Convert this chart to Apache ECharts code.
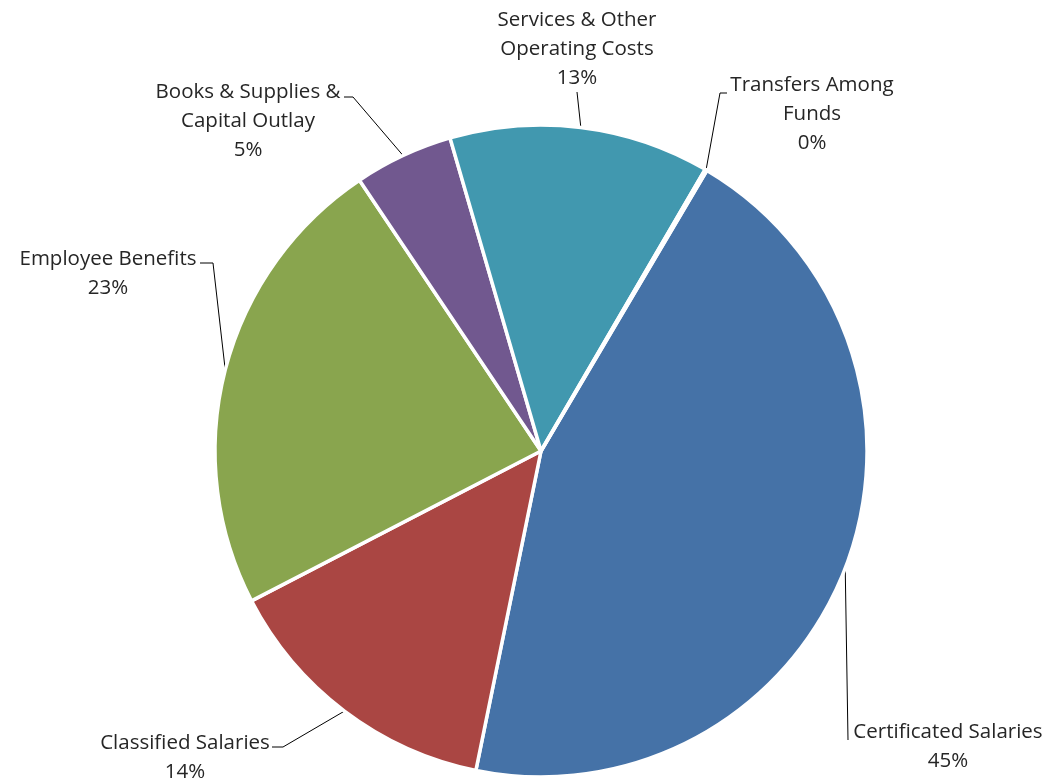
<!DOCTYPE html>
<html>
<head>
<meta charset="utf-8">
<script src="https://cdn.jsdelivr.net/npm/echarts@6/dist/echarts.min.js"></script>
<style>
html,body{margin:0;padding:0;background:#fff;}
#chart{width:1052px;height:782px;}
</style>
</head>
<body>
<div id="chart"></div>
<script>
// Data (clockwise order)
const categories = ['Certificated Salaries', 'Classified Salaries', 'Employee Benefits', 'Books & Supplies & Capital Outlay', 'Services & Other Operating Costs', 'Transfers Among Funds'];
const labelText = ['Certificated Salaries', 'Classified Salaries', 'Employee Benefits', 'Books & Supplies &\nCapital Outlay', 'Services & Other\nOperating Costs', 'Transfers Among\nFunds'];
const values = [44.7, 14.2, 23.2, 4.9, 12.9, 0.1];
const colors = ['#4572A7', '#AA4643', '#89A54E', '#71588F', '#4198AF', '#DB843D'];

// label layout (style only): label centre and leader-line elbow points
const labelPos = [
  {x: 948, y: 747, line: [[848, 740]]},
  {x: 185, y: 758, line: [[283, 747], [272, 747]]},
  {x: 108, y: 274, line: [[213, 263], [200, 263]]},
  {x: 248, y: 121, line: [[353, 97], [344, 97]]},
  {x: 577, y: 49,  line: [[577, 92]]},
  {x: 812, y: 114, line: [[720, 93], [727, 93]]}
];

const chart = echarts.init(document.getElementById('chart'));
chart.setOption({
  animation: false,
  backgroundColor: '#fff',
  series: [{
    type: 'pie',
    center: [541, 451],
    radius: [0, 326],
    startAngle: 59.4,
    clockwise: true,
    avoidLabelOverlap: false,
    data: categories.map((c, i) => ({
      name: c,
      value: values[i],
      itemStyle: {color: colors[i]}
    })),
    itemStyle: {borderColor: '#fff', borderWidth: 3.5},
    label: {
      show: true,
      position: 'outside',
      fontFamily: 'Open Sans',
      fontSize: 20.5,
      lineHeight: 29,
      color: '#262626',
      align: 'center',
      formatter: p => labelText[p.dataIndex] + '\n' + Math.round(p.percent) + '%'
    },
    labelLine: {show: true, lineStyle: {color: '#000', width: 1}},
    emphasis: {disabled: true},
    labelLayout: function (params) {
      const lp = labelPos[params.dataIndex];
      const start = params.labelLinePoints ? params.labelLinePoints[0] : null;
      const pts = start ? [start].concat(lp.line) : lp.line;
      return {
        x: lp.x,
        y: lp.y,
        align: 'center',
        verticalAlign: 'middle',
        labelLinePoints: pts
      };
    }
  }]
});
</script>
</body>
</html>
